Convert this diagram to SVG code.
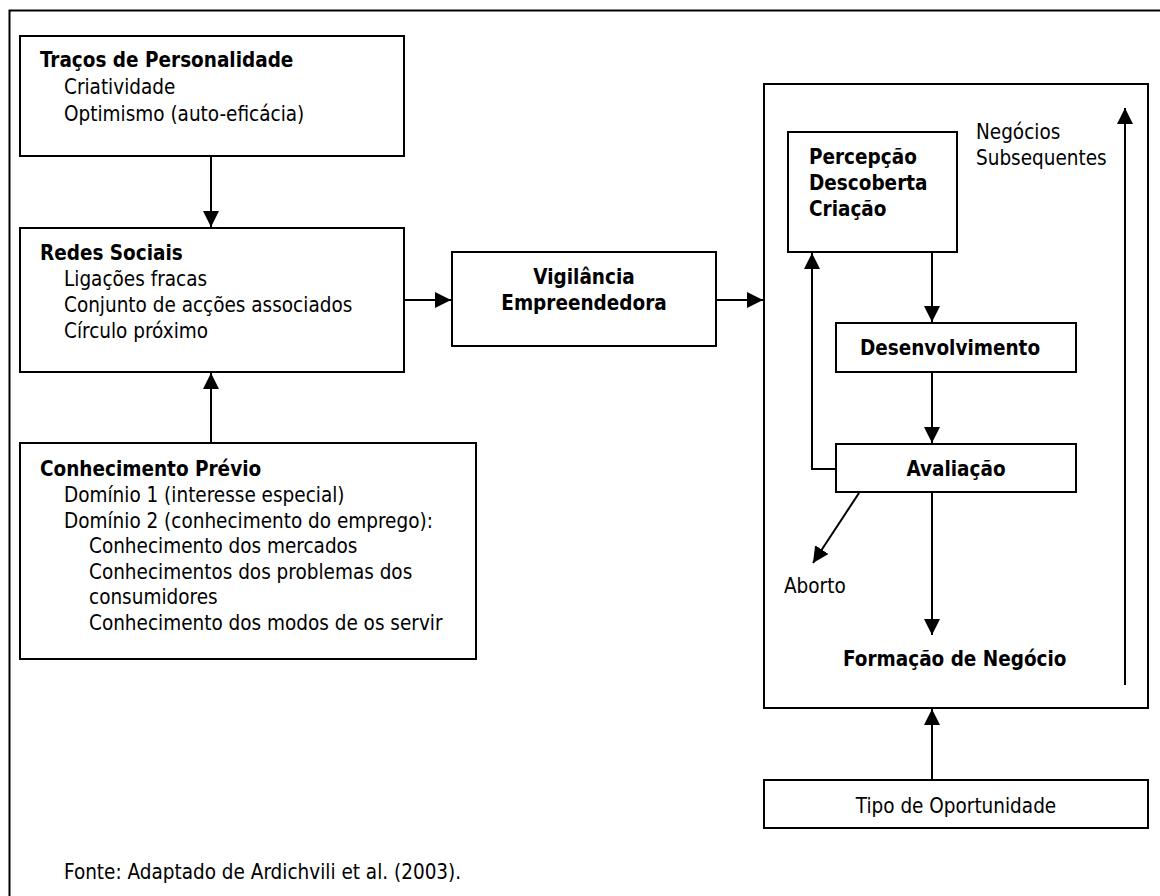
<svg xmlns="http://www.w3.org/2000/svg" width="1160" height="896" viewBox="0 0 1160 896">
  <style>
    .box { fill: #ffffff; stroke: #000000; stroke-width: 2; }
    .frame { fill: none; stroke: #000000; stroke-width: 2; }
    .edge { fill: none; stroke: #000000; stroke-width: 2; }
    text { font-family: "DejaVu Sans Condensed", "DejaVu Sans", Verdana, sans-serif; font-stretch: condensed; font-size: 20.5px; fill: #000000; }
    .b { font-weight: bold; }
  </style>
  <defs>
    <marker id="arrow" viewBox="0 0 16 16" refX="16" refY="8" markerWidth="16" markerHeight="16" markerUnits="userSpaceOnUse" orient="auto">
      <path d="M0,0 L16,8 L0,16 Z" fill="#000000"/>
    </marker>
  </defs>

  <rect width="1160" height="896" fill="#ffffff"/>
  <!-- outer frame (right and bottom edges fall outside the page) -->
  <rect class="frame" x="9.5" y="10.5" width="1170" height="910"/>

  <g id="tracos">
    <rect class="box" x="20" y="36" width="384" height="120"/>
    <text class="b" x="40" y="67">Traços de Personalidade</text>
    <text x="64" y="94">Criatividade</text>
    <text x="64" y="121">Optimismo (auto-eficácia)</text>
  </g>

  <g id="redes">
    <rect class="box" x="20" y="228" width="384" height="144"/>
    <text class="b" x="40" y="260">Redes Sociais</text>
    <text x="64" y="286">Ligações fracas</text>
    <text x="64" y="312">Conjunto de acções associados</text>
    <text x="64" y="338">Círculo próximo</text>
  </g>

  <g id="conhecimento">
    <rect class="box" x="20" y="443" width="456" height="216"/>
    <text class="b" x="40" y="476">Conhecimento Prévio</text>
    <text x="64" y="502">Domínio 1 (interesse especial)</text>
    <text x="64" y="528">Domínio 2 (conhecimento do emprego):</text>
    <text x="89" y="553">Conhecimento dos mercados</text>
    <text x="89" y="579">Conhecimentos dos problemas dos</text>
    <text x="89" y="604">consumidores</text>
    <text x="89" y="630">Conhecimento dos modos de os servir</text>
  </g>

  <g id="vigilancia">
    <rect class="box" x="452" y="252" width="264" height="94"/>
    <text class="b" x="584" y="284" text-anchor="middle">Vigilância</text>
    <text class="b" x="584" y="310" text-anchor="middle">Empreendedora</text>
  </g>

  <g id="processo">
    <rect class="box" x="764" y="84" width="384" height="624"/>
    <text x="976" y="139">Negócios</text>
    <text x="976" y="165">Subsequentes</text>
    <text x="784" y="593">Aborto</text>
    <text class="b" x="843" y="666">Formação de Negócio</text>
  </g>

  <g id="percepcao">
    <rect class="box" x="788" y="132" width="169" height="120"/>
    <text class="b" x="809" y="164">Percepção</text>
    <text class="b" x="809" y="190">Descoberta</text>
    <text class="b" x="809" y="216">Criação</text>
  </g>

  <g id="desenvolvimento">
    <rect class="box" x="836" y="323" width="240" height="49"/>
    <text class="b" x="950" y="355" text-anchor="middle">Desenvolvimento</text>
  </g>

  <g id="avaliacao">
    <rect class="box" x="836" y="444" width="240" height="48"/>
    <text class="b" x="956" y="476" text-anchor="middle">Avaliação</text>
  </g>

  <g id="tipo">
    <rect class="box" x="764" y="780" width="384" height="48"/>
    <text x="956" y="813" text-anchor="middle">Tipo de Oportunidade</text>
  </g>

  <g id="fonte">
    <text x="64" y="879">Fonte: Adaptado de Ardichvili et al. (2003).</text>
  </g>

  <g id="connectors">
    <line class="edge" x1="211" y1="157" x2="211" y2="227" marker-end="url(#arrow)"/>
    <line class="edge" x1="211" y1="442" x2="211" y2="373" marker-end="url(#arrow)"/>
    <line class="edge" x1="405" y1="300" x2="451" y2="300" marker-end="url(#arrow)"/>
    <line class="edge" x1="717" y1="300" x2="763" y2="300" marker-end="url(#arrow)"/>
    <line class="edge" x1="932" y1="253" x2="932" y2="322" marker-end="url(#arrow)"/>
    <line class="edge" x1="932" y1="373" x2="932" y2="443" marker-end="url(#arrow)"/>
    <polyline class="edge" points="835,469 812,469 812,253" marker-end="url(#arrow)"/>
    <line class="edge" x1="932" y1="493" x2="932" y2="635" marker-end="url(#arrow)"/>
    <line class="edge" x1="859" y1="493" x2="813" y2="563" marker-end="url(#arrow)"/>
    <line class="edge" x1="1125" y1="685" x2="1125" y2="108" marker-end="url(#arrow)"/>
    <line class="edge" x1="932" y1="779" x2="932" y2="709" marker-end="url(#arrow)"/>
  </g>
</svg>
